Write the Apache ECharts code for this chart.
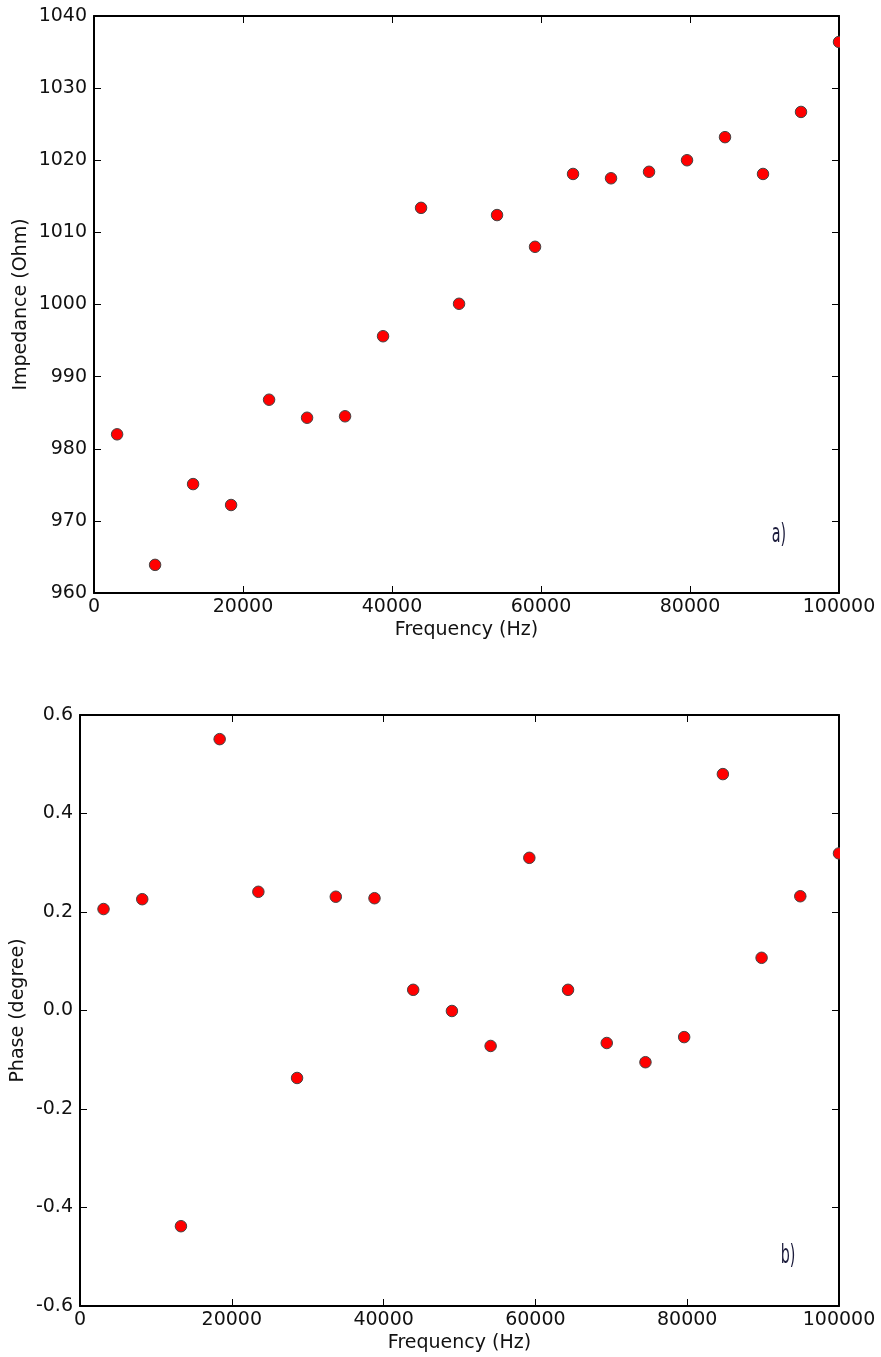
<!DOCTYPE html>
<html>
<head>
<meta charset="utf-8">
<script src="https://cdn.jsdelivr.net/npm/echarts@6/dist/echarts.min.js"></script>
<style>
html,body{margin:0;padding:0;background:#fff;}
#chart{width:881px;height:1357px;}
</style>
</head>
<body>
<div id="chart"></div>
<script>
// Frequency (Hz) of each measurement
const frequencies = [3100, 8200, 13300, 18400, 23500, 28600, 33700, 38800, 43900, 49000,
  54100, 59200, 64300, 69400, 74500, 79600, 84700, 89800, 94900, 100000];
// Impedance (Ohm)
const impedance = [982.0, 963.9, 975.1, 972.2, 986.8, 984.3, 984.5, 995.6, 1013.4, 1000.1,
  1012.4, 1008.0, 1018.1, 1017.5, 1018.4, 1020.0, 1023.2, 1018.1, 1026.7, 1036.4];
// Phase (degree)
const phase = [0.206, 0.226, -0.438, 0.551, 0.241, -0.137, 0.231, 0.228, 0.042, -0.001,
  -0.072, 0.310, 0.042, -0.066, -0.105, -0.054, 0.480, 0.107, 0.232, 0.319];

const impedanceTicks = {min: 960, max: 1040, interval: 10};
const phaseTicks = {min: -0.6, max: 0.6, interval: 0.2};
const freqTicks = {min: 0, max: 100000, interval: 20000};

const FONT = 'DejaVu Sans';
const TXT = '#111';
const FS = 19;

function xMain(gi){
  return {
    type: 'value', gridIndex: gi, position: 'bottom',
    min: freqTicks.min, max: freqTicks.max, interval: freqTicks.interval,
    name: 'Frequency (Hz)', nameLocation: 'middle', nameGap: 28, nameMoveOverlap: false,
    nameTextStyle: {fontFamily: FONT, fontSize: FS, color: TXT},
    axisLine: {show: true, onZero: false, lineStyle: {color: '#000', width: 2}},
    axisTick: {show: true, inside: true, length: 7, lineStyle: {color: '#000', width: 1}},
    axisLabel: {fontFamily: FONT, fontSize: FS, color: TXT, margin: 5, formatter: v => String(v)},
    splitLine: {show: false}
  };
}
function xMirror(gi){
  return {
    type: 'value', gridIndex: gi, position: 'top',
    min: freqTicks.min, max: freqTicks.max, interval: freqTicks.interval,
    axisLine: {show: true, onZero: false, lineStyle: {color: '#000', width: 2}},
    axisTick: {show: true, inside: true, length: 7, lineStyle: {color: '#000', width: 1}},
    axisLabel: {show: false}, splitLine: {show: false}
  };
}
function yMain(gi, t, name, gap, fmt){
  return {
    type: 'value', gridIndex: gi, position: 'left',
    min: t.min, max: t.max, interval: t.interval,
    name: name, nameLocation: 'middle', nameGap: gap, nameMoveOverlap: false,
    nameTextStyle: {fontFamily: FONT, fontSize: FS, color: TXT},
    axisLine: {show: true, onZero: false, lineStyle: {color: '#000', width: 2}},
    axisTick: {show: true, inside: true, length: 7, lineStyle: {color: '#000', width: 1}},
    axisLabel: {fontFamily: FONT, fontSize: FS, color: TXT, margin: 7, formatter: fmt},
    splitLine: {show: false}
  };
}
function yMirror(gi, t){
  return {
    type: 'value', gridIndex: gi, position: 'right',
    min: t.min, max: t.max, interval: t.interval,
    axisLine: {show: true, onZero: false, lineStyle: {color: '#000', width: 2}},
    axisTick: {show: true, inside: true, length: 7, lineStyle: {color: '#000', width: 1}},
    axisLabel: {show: false}, splitLine: {show: false}
  };
}

const marker = {
  type: 'scatter', symbol: 'circle', symbolSize: 11.5,
  itemStyle: {color: '#ff0000', borderColor: '#444', borderWidth: 1, opacity: 1},
  emphasis: {disabled: true}, z: 2
};

const chart = echarts.init(document.getElementById('chart'), null, {renderer: 'canvas'});
chart.setOption({
  animation: false,
  backgroundColor: '#fff',
  grid: [
    {left: 94, top: 16, width: 745, height: 577, containLabel: false, outerBoundsMode: 'none'},
    {left: 80, top: 715, width: 759, height: 591, containLabel: false, outerBoundsMode: 'none'}
  ],
  xAxis: [xMain(0), xMirror(0), xMain(1), xMirror(1)],
  yAxis: [
    yMain(0, impedanceTicks, 'Impedance (Ohm)', 63, v => String(v)),
    yMirror(0, impedanceTicks),
    yMain(1, phaseTicks, 'Phase (degree)', 52, v => v.toFixed(1)),
    yMirror(1, phaseTicks)
  ],
  series: [
    Object.assign({}, marker, {xAxisIndex: 0, yAxisIndex: 0,
      data: frequencies.map((f, i) => [f, impedance[i]])}),
    Object.assign({}, marker, {xAxisIndex: 2, yAxisIndex: 2,
      data: frequencies.map((f, i) => [f, phase[i]])})
  ],
  graphic: [
    {type: 'rect', shape: {x: 840, y: 10, width: 41, height: 588}, style: {fill: '#fff'}, z: 5, silent: true},
    {type: 'rect', shape: {x: 840, y: 709, width: 41, height: 602}, style: {fill: '#fff'}, z: 5, silent: true},
    {type: 'text', x: 779, y: 535, scaleX: 0.55, z: 6,
      style: {text: 'a)', fontFamily: FONT, fontSize: 26, fill: '#1c1c3c', align: 'center', verticalAlign: 'middle'}},
    {type: 'text', x: 788, y: 1256, scaleX: 0.55, z: 6,
      style: {text: 'b)', fontFamily: FONT, fontSize: 26, fill: '#1c1c3c', align: 'center', verticalAlign: 'middle'}}
  ]
});
</script>
</body>
</html>
